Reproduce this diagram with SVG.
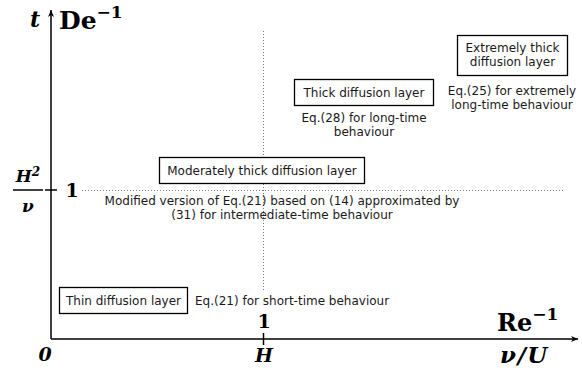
<svg xmlns="http://www.w3.org/2000/svg" width="582" height="371" viewBox="0 0 582 371">
<style>
.box{fill:#fff;stroke:#000;stroke-width:1.3}
.t{font-family:"DejaVu Sans",Verdana,sans-serif;font-size:12px;fill:#1a1a1a}
.m{font-family:"DejaVu Serif","Liberation Serif",serif;font-weight:bold;fill:#000}
.mi{font-family:"DejaVu Serif","Liberation Serif",serif;font-weight:bold;font-style:italic;fill:#000}
.dot{stroke:#777;stroke-width:1;stroke-dasharray:1 2;fill:none}
.ax{stroke:#000;stroke-width:1.5;fill:none}
</style>
<defs>
<marker id="ar" markerWidth="8" markerHeight="8" refX="7" refY="4" orient="auto" markerUnits="userSpaceOnUse">
<path d="M0,1 L7,4 L0,7 L2,4 Z" fill="#000"/>
</marker>
</defs>
<rect width="582" height="371" fill="#fff"/>
<g id="connectors">
<line class="dot" x1="263.5" y1="31" x2="263.5" y2="290"/>
<line class="dot" x1="82" y1="190.5" x2="563" y2="190.5"/>
<line class="ax" x1="51" y1="339" x2="51" y2="10" marker-end="url(#ar)"/>
<line class="ax" x1="51" y1="339" x2="578" y2="339" marker-end="url(#ar)"/>
<line class="ax" x1="45" y1="190" x2="57" y2="190"/>
<line class="ax" x1="263.5" y1="333" x2="263.5" y2="345"/>
</g>
<g id="axis-labels">
<text class="mi" x="35" y="27" font-size="22" text-anchor="middle">t</text>
<text class="m" x="59" y="29" font-size="25">De<tspan font-size="17" dy="-11">−1</tspan></text>
<text class="mi" x="28" y="182" font-size="17" text-anchor="middle">H<tspan font-size="12" dy="-6">2</tspan></text>
<line x1="13" y1="190" x2="43" y2="190" stroke="#000" stroke-width="1.5"/>
<text class="mi" x="28" y="212" font-size="17" text-anchor="middle">ν</text>
<text class="m" x="72" y="197" font-size="19" text-anchor="middle">1</text>
<text class="mi" x="45" y="361" font-size="19" text-anchor="middle">0</text>
<text class="m" x="264" y="328" font-size="19" text-anchor="middle">1</text>
<text class="mi" x="264" y="362" font-size="19" text-anchor="middle">H</text>
<text class="m" x="497" y="331" font-size="24">Re<tspan font-size="17" dy="-11">−1</tspan></text>
<text class="mi" x="500" y="363" font-size="23" letter-spacing="1.5">ν/U</text>
</g>
<g id="thin">
<rect class="box" x="59.5" y="287.5" width="128" height="26"/>
<text class="t" x="123.5" y="305" text-anchor="middle">Thin diffusion layer</text>
<text class="t" x="195" y="305">Eq.(21) for short-time behaviour</text>
</g>
<g id="moderate">
<rect class="box" x="159.5" y="157.5" width="205" height="26"/>
<text class="t" x="262" y="175" text-anchor="middle">Moderately thick diffusion layer</text>
<text class="t" x="282" y="205" text-anchor="middle">Modified version of Eq.(21) based on (14) approximated by</text>
<text class="t" x="282" y="219" text-anchor="middle">(31) for intermediate-time behaviour</text>
</g>
<g id="thick">
<rect class="box" x="294.5" y="79.5" width="139" height="26"/>
<text class="t" x="364" y="97" text-anchor="middle">Thick diffusion layer</text>
<text class="t" x="364" y="122" text-anchor="middle">Eq.(28) for long-time</text>
<text class="t" x="364" y="136" text-anchor="middle">behaviour</text>
</g>
<g id="extreme">
<rect class="box" x="457.5" y="35.5" width="110" height="40"/>
<text class="t" x="512.5" y="52" text-anchor="middle">Extremely thick</text>
<text class="t" x="512.5" y="66" text-anchor="middle">diffusion layer</text>
<text class="t" x="512" y="95" text-anchor="middle">Eq.(25) for extremely</text>
<text class="t" x="512" y="109" text-anchor="middle">long-time behaviour</text>
</g>
</svg>
